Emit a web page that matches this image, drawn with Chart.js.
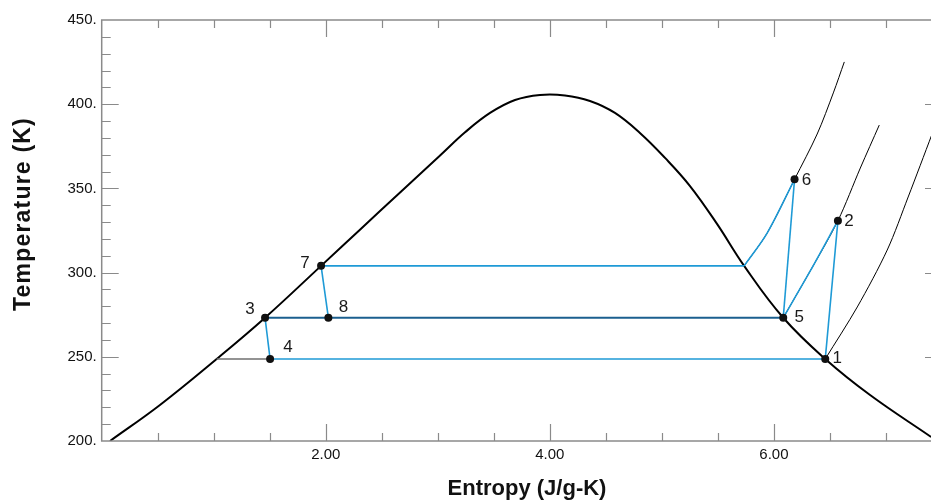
<!DOCTYPE html>
<html><head><meta charset="utf-8">
<script src="https://cdn.jsdelivr.net/npm/chart.js@4.4.1/dist/chart.umd.min.js"></script>
<style>
html,body{margin:0;padding:0;overflow:hidden;background:#fff;width:931px;height:503px}
#wrap{position:relative;width:950px;height:503px}
canvas{display:block}
</style>
</head><body><div id="wrap"><canvas id="c" width="950" height="503" style="width:950px;height:503px"></canvas></div>
<script>
// ---- axis ticks ----
const xTickValues = [2, 4, 6];
const yTickValues = [200, 250, 300, 350, 400, 450];
const xRange = [0, 7.5];
const yRange = [200, 450];
const xMinorStep = 0.5;
const yMinorStep = 10;

// ---- saturation dome (entropy J/g-K, temperature K) ----
const domeS = [0.074, 0.520, 1.026, 1.458, 1.958, 2.305, 2.663, 3.020, 3.243, 3.466, 3.689, 3.912, 4.135, 4.358, 4.581, 4.804, 5.028, 5.251, 5.492, 5.734, 6.083, 6.458, 6.858, 7.403];
const domeT = [200.0, 221.4, 248.7, 273.2, 304.0, 325.5, 347.6, 369.5, 383.3, 394.8, 402.5, 405.5, 405.2, 401.9, 394.8, 382.9, 368.1, 351.4, 328.9, 304.0, 273.2, 248.7, 227.3, 202.4];

// ---- superheated isobars ----
const isobarHighS = [5.734, 5.938, 6.184, 6.386, 6.53, 6.628];
const isobarHighT = [304.0, 323.3, 355.4, 382.3, 406.7, 425.1];
const isobarMidS = [6.083, 6.324, 6.571, 6.771, 6.94];
const isobarMidT = [273.2, 301.0, 330.8, 362.1, 387.6];
const isobarLowS = [6.458, 6.744, 7.011, 7.198, 7.41];
const isobarLowT = [248.7, 279.6, 313.4, 344.9, 382.0];

// ---- cycle state points ----
const stateLabels = ['1', '2', '3', '4', '5', '6', '7', '8'];
const stateS = [6.458, 6.571, 1.458, 1.503, 6.083, 6.184, 1.958, 2.023];
const stateT = [248.7, 330.8, 273.2, 248.7, 273.2, 355.4, 304.0, 273.2];

// ---- helpers ----
const pts = (S, T) => S.map((s, i) => ({x: s, y: T[i]}));
const st = i => ({x: stateS[i], y: stateT[i]});
const satVapHigh = {x: isobarHighS[0], y: isobarHighT[0]};
const satLiqLow = {x: domeS[2], y: domeT[2]};

const BLUE = '#1e9ad6', DARK = '#1b5f8f', BLACK = '#000', GRAY = '#6f6f6f';
function lineDs(data, color, width, order, tension) {
  return {type: 'scatter', data, showLine: true, borderColor: color, borderWidth: width,
    pointRadius: 0, pointHoverRadius: 0, tension: tension || 0, order, fill: false};
}

const datasets = [
  {type: 'scatter', data: stateS.map((s, i) => st(i)), showLine: false, pointRadius: 4,
   pointBackgroundColor: '#111', pointBorderColor: '#111', pointBorderWidth: 0, order: 0},
  lineDs(pts(domeS, domeT), BLACK, 2, 5, 0.4),
  lineDs(pts(isobarHighS, isobarHighT), BLACK, 1, 5, 0.3),
  lineDs(pts(isobarMidS, isobarMidT), BLACK, 1, 5, 0.3),
  lineDs(pts(isobarLowS, isobarLowT), BLACK, 1, 5, 0.3),
  lineDs([satLiqLow, st(3)], GRAY, 1.5, 4),
  lineDs([st(2), st(4)], DARK, 1.8, 3),
  lineDs([st(6), satVapHigh], BLUE, 1.6, 1),
  lineDs(pts(isobarHighS.slice(0, 3), isobarHighT.slice(0, 3)), BLUE, 1.6, 1, 0.3),
  lineDs([st(5), st(4)], BLUE, 1.6, 1),
  lineDs(pts(isobarMidS.slice(0, 3), isobarMidT.slice(0, 3)), BLUE, 1.6, 1, 0.3),
  lineDs([st(1), st(0)], BLUE, 1.6, 1),
  lineDs([st(0), st(3)], BLUE, 1.6, 1),
  lineDs([st(3), st(2)], BLUE, 1.6, 1),
  lineDs([st(6), st(7)], BLUE, 1.6, 1)
];

const labelOffsets = [[12, -1], [11, 1], [-15, -8], [18, -12], [16, 0], [12, 1], [-16, -3], [15, -10]];

const framePlugin = {
  id: 'frame',
  afterDraw(chart) {
    const {ctx, chartArea: a, scales: {x, y}} = chart;
    ctx.save();
    ctx.strokeStyle = '#8a8a8a';
    ctx.lineWidth = 1.5;
    ctx.strokeRect(a.left, a.top, a.right - a.left, a.bottom - a.top);
    ctx.lineWidth = 1.2;
    ctx.beginPath();
    for (let v = yRange[0] + yMinorStep; v < yRange[1]; v += yMinorStep) {
      const major = Math.abs(v % 50) < 1e-6;
      const len = major ? 17 : 9;
      const py = Math.round(y.getPixelForValue(v)) + 0.5;
      ctx.moveTo(a.left, py); ctx.lineTo(a.left + len, py);
      ctx.moveTo(a.right, py); ctx.lineTo(a.right - len, py);
    }
    for (let v = xRange[0] + xMinorStep; v < xRange[1] - 1e-6; v += xMinorStep) {
      const major = xTickValues.some(t => Math.abs(t - v) < 1e-6);
      const len = major ? 17 : 8;
      const px = Math.round(x.getPixelForValue(v)) + 0.5;
      ctx.moveTo(px, a.bottom); ctx.lineTo(px, a.bottom - len);
      ctx.moveTo(px, a.top); ctx.lineTo(px, a.top + len);
    }
    ctx.stroke();
    ctx.fillStyle = '#1a1a1a';
    ctx.font = '17px "Liberation Sans", Arial, sans-serif';
    ctx.textAlign = 'center';
    ctx.textBaseline = 'middle';
    stateLabels.forEach((lab, i) => {
      const px = x.getPixelForValue(stateS[i]) + labelOffsets[i][0];
      const py = y.getPixelForValue(stateT[i]) + labelOffsets[i][1];
      ctx.fillText(lab, px, py);
    });
    ctx.fillStyle = '#111';
    ctx.font = 'bold 22px "Liberation Sans", Arial, sans-serif';
    ctx.fillText('Entropy (J/g-K)', 527, 489);
    ctx.translate(24, 214);
    ctx.rotate(-Math.PI / 2);
    ctx.font = 'bold 23px "Liberation Sans", Arial, sans-serif';
    try { ctx.letterSpacing = '1.2px'; } catch (e) {}
    ctx.fillText('Temperature (K)', 0, 0);
    ctx.restore();
  }
};

new Chart(document.getElementById('c'), {
  type: 'scatter',
  data: {datasets},
  options: {
    responsive: false,
    animation: false,
    events: [],
    layout: {padding: {top: 20, right: 8, bottom: 0, left: 0}},
    plugins: {legend: {display: false}, tooltip: {enabled: false}, title: {display: false}},
    scales: {
      x: {
        type: 'linear', min: xRange[0], max: xRange[1],
        grid: {display: false, drawTicks: false},
        border: {display: false},
        afterBuildTicks: s => { s.ticks = xTickValues.map(v => ({value: v})); },
        afterFit: s => { s.height = 62; },
        ticks: {padding: 5, color: '#111', font: {family: '"Liberation Sans", Arial, sans-serif', size: 15},
          callback: v => Number(v).toFixed(2), maxRotation: 0, autoSkip: false}
      },
      y: {
        type: 'linear', min: yRange[0], max: yRange[1],
        grid: {display: false, drawTicks: false},
        border: {display: false},
        afterBuildTicks: s => { s.ticks = yTickValues.map(v => ({value: v})); },
        afterFit: s => { s.width = 101.7; },
        ticks: {padding: 5, color: '#111', font: {family: '"Liberation Sans", Arial, sans-serif', size: 15},
          callback: v => v + '.', autoSkip: false}
      }
    }
  },
  plugins: [framePlugin]
});
</script>
</body></html>
